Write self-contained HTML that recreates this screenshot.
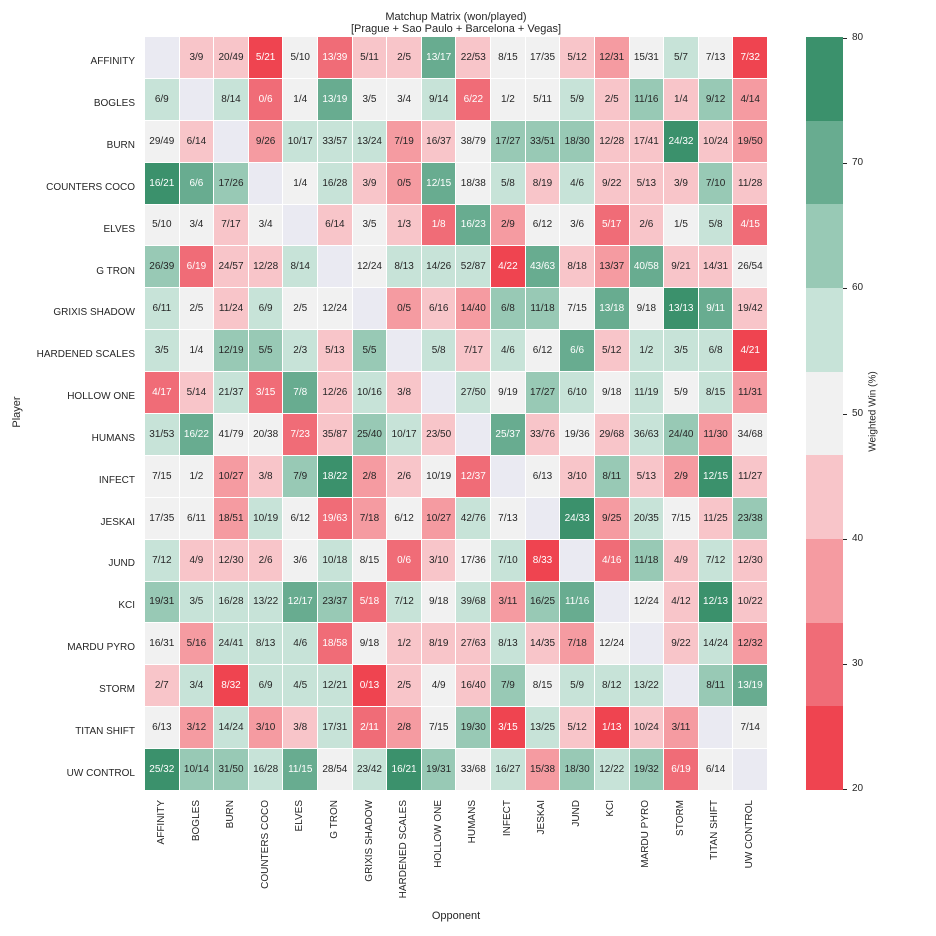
<!DOCTYPE html>
<html><head><meta charset="utf-8"><style>
body{margin:0;width:936px;height:936px;background:#fff;position:relative;overflow:hidden;font-family:"Liberation Sans",Arial,sans-serif;color:#262626}
#g{position:absolute;left:145px;top:37px;width:622px;height:753px;display:grid;grid-template-columns:repeat(18,1fr);grid-template-rows:repeat(18,1fr);gap:1px;background:#fff}
#g div{display:flex;align-items:center;justify-content:center;font-size:10px;color:#262626}
#g .d{background:#eaeaf2}
#g .b0{background:#ef4450;color:#fff}#g .b1{background:#f06c77;color:#fff}#g .b2{background:#f59ba1}#g .b3{background:#f8c5c9}#g .b4{background:#f1f1f1}#g .b5{background:#c7e3d8}#g .b6{background:#98c9b5}#g .b7{background:#68ac90;color:#fff}#g .b8{background:#3b916c;color:#fff}
.yl{position:absolute;right:801px;font-size:10px;white-space:nowrap;line-height:12px;margin-top:4px}
.xl{position:absolute;top:800px;font-size:10px;white-space:nowrap;writing-mode:vertical-rl;transform:rotate(180deg);line-height:12px}
#cb{position:absolute;left:806px;top:37px;width:37px;height:753px;display:flex;flex-direction:column}
#cb div{flex:1}
.ct{position:absolute;left:843px;width:4px;height:1px;background:#262626}
.cl{position:absolute;left:852px;font-size:10px;line-height:12px}
</style></head><body>
<div style="position:absolute;left:0;width:912px;top:11px;text-align:center;font-size:11px;line-height:12px">Matchup Matrix (won/played)<br>[Prague + Sao Paulo + Barcelona + Vegas]</div>
<div id="g">
<div class="d"></div><div class="b3">3/9</div><div class="b3">20/49</div><div class="b0">5/21</div><div class="b4">5/10</div><div class="b1">13/39</div><div class="b3">5/11</div><div class="b3">2/5</div><div class="b7">13/17</div><div class="b3">22/53</div><div class="b4">8/15</div><div class="b4">17/35</div><div class="b3">5/12</div><div class="b2">12/31</div><div class="b4">15/31</div><div class="b5">5/7</div><div class="b4">7/13</div><div class="b0">7/32</div>
<div class="b5">6/9</div><div class="d"></div><div class="b5">8/14</div><div class="b1">0/6</div><div class="b4">1/4</div><div class="b7">13/19</div><div class="b4">3/5</div><div class="b4">3/4</div><div class="b5">9/14</div><div class="b1">6/22</div><div class="b4">1/2</div><div class="b4">5/11</div><div class="b5">5/9</div><div class="b3">2/5</div><div class="b6">11/16</div><div class="b3">1/4</div><div class="b6">9/12</div><div class="b2">4/14</div>
<div class="b4">29/49</div><div class="b3">6/14</div><div class="d"></div><div class="b2">9/26</div><div class="b5">10/17</div><div class="b5">33/57</div><div class="b5">13/24</div><div class="b2">7/19</div><div class="b3">16/37</div><div class="b4">38/79</div><div class="b6">17/27</div><div class="b6">33/51</div><div class="b6">18/30</div><div class="b3">12/28</div><div class="b3">17/41</div><div class="b8">24/32</div><div class="b3">10/24</div><div class="b2">19/50</div>
<div class="b8">16/21</div><div class="b7">6/6</div><div class="b6">17/26</div><div class="d"></div><div class="b4">1/4</div><div class="b5">16/28</div><div class="b3">3/9</div><div class="b2">0/5</div><div class="b7">12/15</div><div class="b4">18/38</div><div class="b5">5/8</div><div class="b3">8/19</div><div class="b5">4/6</div><div class="b3">9/22</div><div class="b3">5/13</div><div class="b3">3/9</div><div class="b6">7/10</div><div class="b3">11/28</div>
<div class="b4">5/10</div><div class="b4">3/4</div><div class="b3">7/17</div><div class="b4">3/4</div><div class="d"></div><div class="b3">6/14</div><div class="b4">3/5</div><div class="b3">1/3</div><div class="b1">1/8</div><div class="b7">16/23</div><div class="b2">2/9</div><div class="b4">6/12</div><div class="b4">3/6</div><div class="b1">5/17</div><div class="b3">2/6</div><div class="b4">1/5</div><div class="b5">5/8</div><div class="b1">4/15</div>
<div class="b6">26/39</div><div class="b1">6/19</div><div class="b3">24/57</div><div class="b3">12/28</div><div class="b5">8/14</div><div class="d"></div><div class="b4">12/24</div><div class="b5">8/13</div><div class="b5">14/26</div><div class="b5">52/87</div><div class="b0">4/22</div><div class="b7">43/63</div><div class="b3">8/18</div><div class="b2">13/37</div><div class="b7">40/58</div><div class="b3">9/21</div><div class="b3">14/31</div><div class="b4">26/54</div>
<div class="b5">6/11</div><div class="b4">2/5</div><div class="b3">11/24</div><div class="b5">6/9</div><div class="b4">2/5</div><div class="b4">12/24</div><div class="d"></div><div class="b2">0/5</div><div class="b3">6/16</div><div class="b2">14/40</div><div class="b6">6/8</div><div class="b6">11/18</div><div class="b4">7/15</div><div class="b7">13/18</div><div class="b4">9/18</div><div class="b8">13/13</div><div class="b7">9/11</div><div class="b3">19/42</div>
<div class="b5">3/5</div><div class="b4">1/4</div><div class="b6">12/19</div><div class="b6">5/5</div><div class="b5">2/3</div><div class="b3">5/13</div><div class="b6">5/5</div><div class="d"></div><div class="b5">5/8</div><div class="b3">7/17</div><div class="b5">4/6</div><div class="b4">6/12</div><div class="b7">6/6</div><div class="b3">5/12</div><div class="b5">1/2</div><div class="b5">3/5</div><div class="b5">6/8</div><div class="b0">4/21</div>
<div class="b1">4/17</div><div class="b3">5/14</div><div class="b5">21/37</div><div class="b1">3/15</div><div class="b7">7/8</div><div class="b3">12/26</div><div class="b5">10/16</div><div class="b3">3/8</div><div class="d"></div><div class="b5">27/50</div><div class="b4">9/19</div><div class="b6">17/27</div><div class="b5">6/10</div><div class="b4">9/18</div><div class="b5">11/19</div><div class="b4">5/9</div><div class="b5">8/15</div><div class="b2">11/31</div>
<div class="b5">31/53</div><div class="b7">16/22</div><div class="b4">41/79</div><div class="b4">20/38</div><div class="b1">7/23</div><div class="b3">35/87</div><div class="b6">25/40</div><div class="b5">10/17</div><div class="b3">23/50</div><div class="d"></div><div class="b7">25/37</div><div class="b3">33/76</div><div class="b4">19/36</div><div class="b3">29/68</div><div class="b5">36/63</div><div class="b6">24/40</div><div class="b2">11/30</div><div class="b4">34/68</div>
<div class="b4">7/15</div><div class="b4">1/2</div><div class="b2">10/27</div><div class="b3">3/8</div><div class="b6">7/9</div><div class="b8">18/22</div><div class="b2">2/8</div><div class="b3">2/6</div><div class="b4">10/19</div><div class="b1">12/37</div><div class="d"></div><div class="b4">6/13</div><div class="b3">3/10</div><div class="b6">8/11</div><div class="b3">5/13</div><div class="b2">2/9</div><div class="b8">12/15</div><div class="b3">11/27</div>
<div class="b4">17/35</div><div class="b4">6/11</div><div class="b2">18/51</div><div class="b5">10/19</div><div class="b4">6/12</div><div class="b1">19/63</div><div class="b2">7/18</div><div class="b4">6/12</div><div class="b2">10/27</div><div class="b5">42/76</div><div class="b4">7/13</div><div class="d"></div><div class="b8">24/33</div><div class="b2">9/25</div><div class="b5">20/35</div><div class="b4">7/15</div><div class="b3">11/25</div><div class="b6">23/38</div>
<div class="b5">7/12</div><div class="b3">4/9</div><div class="b3">12/30</div><div class="b3">2/6</div><div class="b4">3/6</div><div class="b5">10/18</div><div class="b4">8/15</div><div class="b1">0/6</div><div class="b3">3/10</div><div class="b4">17/36</div><div class="b5">7/10</div><div class="b0">8/33</div><div class="d"></div><div class="b1">4/16</div><div class="b6">11/18</div><div class="b3">4/9</div><div class="b5">7/12</div><div class="b3">12/30</div>
<div class="b6">19/31</div><div class="b5">3/5</div><div class="b5">16/28</div><div class="b5">13/22</div><div class="b7">12/17</div><div class="b6">23/37</div><div class="b1">5/18</div><div class="b5">7/12</div><div class="b4">9/18</div><div class="b5">39/68</div><div class="b2">3/11</div><div class="b6">16/25</div><div class="b7">11/16</div><div class="d"></div><div class="b4">12/24</div><div class="b3">4/12</div><div class="b8">12/13</div><div class="b3">10/22</div>
<div class="b4">16/31</div><div class="b2">5/16</div><div class="b5">24/41</div><div class="b5">8/13</div><div class="b5">4/6</div><div class="b1">18/58</div><div class="b4">9/18</div><div class="b3">1/2</div><div class="b3">8/19</div><div class="b3">27/63</div><div class="b5">8/13</div><div class="b3">14/35</div><div class="b2">7/18</div><div class="b4">12/24</div><div class="d"></div><div class="b3">9/22</div><div class="b5">14/24</div><div class="b2">12/32</div>
<div class="b3">2/7</div><div class="b5">3/4</div><div class="b0">8/32</div><div class="b5">6/9</div><div class="b5">4/5</div><div class="b5">12/21</div><div class="b0">0/13</div><div class="b3">2/5</div><div class="b4">4/9</div><div class="b3">16/40</div><div class="b6">7/9</div><div class="b4">8/15</div><div class="b5">5/9</div><div class="b5">8/12</div><div class="b5">13/22</div><div class="d"></div><div class="b6">8/11</div><div class="b7">13/19</div>
<div class="b4">6/13</div><div class="b2">3/12</div><div class="b5">14/24</div><div class="b2">3/10</div><div class="b3">3/8</div><div class="b5">17/31</div><div class="b1">2/11</div><div class="b2">2/8</div><div class="b4">7/15</div><div class="b6">19/30</div><div class="b0">3/15</div><div class="b5">13/25</div><div class="b3">5/12</div><div class="b0">1/13</div><div class="b3">10/24</div><div class="b2">3/11</div><div class="d"></div><div class="b4">7/14</div>
<div class="b8">25/32</div><div class="b6">10/14</div><div class="b6">31/50</div><div class="b5">16/28</div><div class="b7">11/15</div><div class="b4">28/54</div><div class="b5">23/42</div><div class="b8">16/21</div><div class="b6">19/31</div><div class="b4">33/68</div><div class="b5">16/27</div><div class="b2">15/38</div><div class="b6">18/30</div><div class="b5">12/22</div><div class="b6">19/32</div><div class="b1">6/19</div><div class="b4">6/14</div><div class="d"></div>
</div>
<div class="yl" style="top:52px">AFFINITY</div><div class="yl" style="top:94px">BOGLES</div><div class="yl" style="top:136px">BURN</div><div class="yl" style="top:178px">COUNTERS COCO</div><div class="yl" style="top:220px">ELVES</div><div class="yl" style="top:262px">G TRON</div><div class="yl" style="top:303px">GRIXIS SHADOW</div><div class="yl" style="top:345px">HARDENED SCALES</div><div class="yl" style="top:387px">HOLLOW ONE</div><div class="yl" style="top:429px">HUMANS</div><div class="yl" style="top:471px">INFECT</div><div class="yl" style="top:513px">JESKAI</div><div class="yl" style="top:554px">JUND</div><div class="yl" style="top:596px">KCI</div><div class="yl" style="top:638px">MARDU PYRO</div><div class="yl" style="top:680px">STORM</div><div class="yl" style="top:722px">TITAN SHIFT</div><div class="yl" style="top:764px">UW CONTROL</div>
<div class="xl" style="left:156px">AFFINITY</div><div class="xl" style="left:191px">BOGLES</div><div class="xl" style="left:225px">BURN</div><div class="xl" style="left:260px">COUNTERS COCO</div><div class="xl" style="left:294px">ELVES</div><div class="xl" style="left:329px">G TRON</div><div class="xl" style="left:364px">GRIXIS SHADOW</div><div class="xl" style="left:398px">HARDENED SCALES</div><div class="xl" style="left:433px">HOLLOW ONE</div><div class="xl" style="left:467px">HUMANS</div><div class="xl" style="left:502px">INFECT</div><div class="xl" style="left:536px">JESKAI</div><div class="xl" style="left:571px">JUND</div><div class="xl" style="left:605px">KCI</div><div class="xl" style="left:640px">MARDU PYRO</div><div class="xl" style="left:675px">STORM</div><div class="xl" style="left:709px">TITAN SHIFT</div><div class="xl" style="left:744px">UW CONTROL</div>
<div style="position:absolute;left:0;width:912px;top:910px;text-align:center;font-size:11px">Opponent</div>
<div style="position:absolute;left:-8px;top:406px;width:50px;text-align:center;font-size:11px;transform:rotate(-90deg)">Player</div>
<div id="cb"><div style="background:#3b916c"></div><div style="background:#68ac90"></div><div style="background:#98c9b5"></div><div style="background:#c7e3d8"></div><div style="background:#f1f1f1"></div><div style="background:#f8c5c9"></div><div style="background:#f59ba1"></div><div style="background:#f06c77"></div><div style="background:#ef4450"></div></div>
<div class="ct" style="top:38px"></div><div class="ct" style="top:163px"></div><div class="ct" style="top:288px"></div><div class="ct" style="top:414px"></div><div class="ct" style="top:539px"></div><div class="ct" style="top:664px"></div><div class="ct" style="top:789px"></div>
<div class="cl" style="top:32px">80</div><div class="cl" style="top:157px">70</div><div class="cl" style="top:282px">60</div><div class="cl" style="top:408px">50</div><div class="cl" style="top:533px">40</div><div class="cl" style="top:658px">30</div><div class="cl" style="top:783px">20</div>
<div style="position:absolute;left:823px;top:406px;width:100px;text-align:center;font-size:10px;transform:rotate(-90deg)">Weighted Win (%)</div>
</body></html>
